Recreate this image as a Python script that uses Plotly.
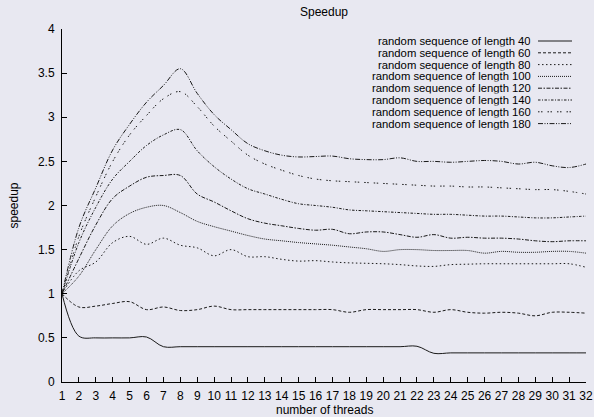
import plotly.graph_objects as go

threads = list(range(1, 33))

names = [
    "random sequence of length 40",
    "random sequence of length 60",
    "random sequence of length 80",
    "random sequence of length 100",
    "random sequence of length 120",
    "random sequence of length 140",
    "random sequence of length 160",
    "random sequence of length 180",
]

s40 = [1.0, 0.52, 0.50, 0.50, 0.50, 0.51, 0.40, 0.40, 0.40, 0.40, 0.40, 0.40, 0.40, 0.40, 0.40, 0.40,
       0.40, 0.40, 0.40, 0.40, 0.40, 0.405, 0.325, 0.33, 0.33, 0.33, 0.33, 0.33, 0.33, 0.33, 0.33, 0.33]
s60 = [1.0, 0.85, 0.86, 0.89, 0.91, 0.82, 0.85, 0.81, 0.82, 0.86, 0.82, 0.82, 0.82, 0.82, 0.82, 0.82,
       0.82, 0.79, 0.82, 0.82, 0.82, 0.82, 0.79, 0.82, 0.79, 0.78, 0.79, 0.78, 0.75, 0.79, 0.79, 0.78]
s80 = [1.0, 1.26, 1.36, 1.58, 1.65, 1.56, 1.63, 1.55, 1.52, 1.43, 1.50, 1.42, 1.42, 1.39, 1.37, 1.375,
       1.36, 1.35, 1.345, 1.34, 1.33, 1.315, 1.31, 1.33, 1.335, 1.34, 1.34, 1.34, 1.34, 1.34, 1.34, 1.30]
s100 = [1.0, 1.2, 1.5, 1.77, 1.91, 1.98, 2.0, 1.92, 1.82, 1.76, 1.71, 1.66, 1.62, 1.60, 1.58, 1.565,
        1.55, 1.53, 1.51, 1.48, 1.50, 1.50, 1.49, 1.49, 1.49, 1.46, 1.48, 1.47, 1.47, 1.48, 1.48, 1.46]
s120 = [1.0, 1.4, 1.78, 2.08, 2.22, 2.32, 2.34, 2.34, 2.13, 2.04, 1.94, 1.85, 1.80, 1.77, 1.74, 1.72,
        1.73, 1.68, 1.70, 1.70, 1.67, 1.64, 1.67, 1.63, 1.64, 1.63, 1.63, 1.62, 1.60, 1.59, 1.60, 1.60]
s140 = [1.0, 1.58, 1.98, 2.3, 2.5, 2.68, 2.8, 2.86, 2.62, 2.44, 2.30, 2.19, 2.13, 2.07, 2.02, 2.0,
        1.98, 1.95, 1.94, 1.93, 1.92, 1.91, 1.90, 1.90, 1.89, 1.88, 1.88, 1.87, 1.86, 1.86, 1.87, 1.88]
s160 = [1.0, 1.65, 2.1, 2.5, 2.8, 3.02, 3.21, 3.29, 3.12, 2.9, 2.73, 2.57, 2.47, 2.40, 2.34, 2.30,
        2.28, 2.27, 2.26, 2.25, 2.24, 2.23, 2.22, 2.22, 2.21, 2.21, 2.20, 2.19, 2.18, 2.18, 2.16, 2.13]
s180 = [1.0, 1.75, 2.2, 2.63, 2.92, 3.17, 3.36, 3.55, 3.27, 3.03, 2.86, 2.70, 2.62, 2.57, 2.55, 2.555,
        2.56, 2.53, 2.52, 2.52, 2.54, 2.50, 2.50, 2.49, 2.50, 2.51, 2.50, 2.47, 2.49, 2.45, 2.43, 2.47]

series = [s40, s60, s80, s100, s120, s140, s160, s180]
dashes = [
    "solid",
    "3px,2px",
    "1.5px,2.5px",
    "1px,1px",
    "4px,1.5px,1.5px,1.5px",
    "2.5px,1.5px,1px,1.5px",
    "1.5px,1.5px,1.5px,5px",
    "5px,1.5px,1px,1.5px,1px,1.5px",
]
y_ticks = [0, 0.5, 1, 1.5, 2, 2.5, 3, 3.5, 4]
y_tick_text = ["0", "0.5", "1", "1.5", "2", "2.5", "3", "3.5", "4"]

BG = "#e8e8f1"
FONT = "Liberation Sans, Arial, Helvetica, sans-serif"
LINE = "#1a1a1a"

fig = go.Figure()
for name, ys, dash in zip(names, series, dashes):
    fig.add_trace(go.Scatter(
        x=threads, y=ys, name=name, mode="lines",
        line=dict(color=LINE, width=1, dash=dash, shape="spline", smoothing=1.0),
        showlegend=False,
    ))

W, H = 594, 417
L, R, T, B = 62, 8, 29, 35
pw, ph = W - L - R, H - T - B
def px_x(px):
    return (px - L) / pw
def px_y(py):
    return (H - B - py) / ph

shapes = []
annotations = []
# manual gnuplot-style key (text right-aligned, sample line on the right)
for i, (name, dash) in enumerate(zip(names, dashes)):
    py = 41 + i * 11.8
    annotations.append(dict(
        xref="paper", yref="paper", x=px_x(532), y=px_y(py),
        xanchor="right", yanchor="middle", text=name, showarrow=False,
        height=11.6, borderpad=0,
        font=dict(family=FONT, size=11.3, color="black"),
    ))
    shapes.append(dict(
        type="line", xref="paper", yref="paper",
        x0=px_x(538), x1=px_x(572), y0=px_y(py), y1=px_y(py),
        line=dict(color=LINE, width=1, dash=dash),
    ))

# axis titles
annotations.append(dict(
    xref="paper", yref="paper", x=0.5, y=px_y(410), xanchor="center", yanchor="middle",
    text="number of threads", showarrow=False, borderpad=0,
    font=dict(family=FONT, size=12, color="black"),
))
annotations.append(dict(
    xref="paper", yref="paper", x=px_x(13), y=0.5, xanchor="center", yanchor="middle",
    text="speedup", textangle=-90, showarrow=False, borderpad=0,
    font=dict(family=FONT, size=12, color="black"),
))

fig.update_layout(
    width=W, height=H,
    margin=dict(l=L, r=R, t=T, b=B, autoexpand=False),
    paper_bgcolor=BG, plot_bgcolor=BG,
    font=dict(family=FONT, size=12, color="black"),
    title=dict(text="Speedup", x=0.5, xref="paper", xanchor="center",
               y=1 - 12 / H, yanchor="middle", font=dict(size=12)),
    shapes=shapes, annotations=annotations,
    showlegend=False,
)
fig.update_xaxes(
    range=[1, 32], tickmode="array", tickvals=threads,
    ticktext=[str(t) for t in threads],
    ticks="inside", ticklen=5, tickcolor="black", tickwidth=1,
    showline=True, linecolor="black", linewidth=1, mirror=False,
    showgrid=False, zeroline=False, automargin=False,
    tickfont=dict(size=12), ticklabelstandoff=3,
)
fig.update_yaxes(
    range=[0, 4], tickmode="array", tickvals=y_ticks, ticktext=y_tick_text,
    ticks="inside", ticklen=5, tickcolor="black", tickwidth=1,
    showline=True, linecolor="black", linewidth=1, mirror=False,
    showgrid=False, zeroline=False, automargin=False,
    tickfont=dict(size=12), ticklabelstandoff=4,
)

fig.write_html(
    "out.html",
    config={"displayModeBar": False},
    post_script="document.body.style.margin='0';document.body.style.background='" + BG + "';",
)
